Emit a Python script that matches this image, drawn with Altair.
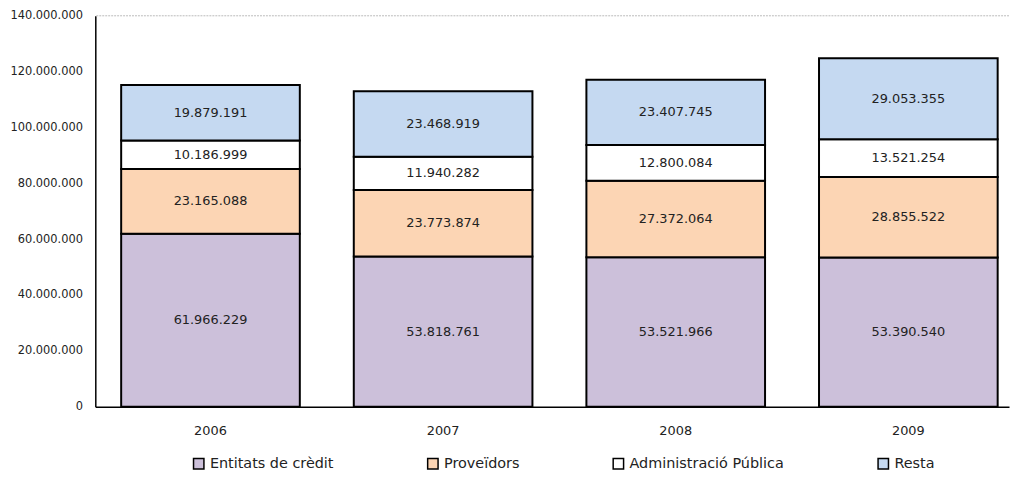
import altair as alt
import pandas as pd

years = ["2006", "2007", "2008", "2009"]
series = ["Entitats de crèdit", "Proveïdors", "Administració Pública", "Resta"]
entitats = [61966229, 53818761, 53521966, 53390540]
proveidors = [23165088, 23773874, 27372064, 28855522]
administracio = [10186999, 11940282, 12800084, 13521254]
resta = [19879191, 23468919, 23407745, 29053355]
colors = ["#CCC0DA", "#FCD5B4", "#FFFFFF", "#C5D9F1"]
y_ticks = [0, 20000000, 40000000, 60000000, 80000000, 100000000, 120000000, 140000000]

rows = []
for s_i, (name, vals) in enumerate(zip(series, [entitats, proveidors, administracio, resta])):
    for y, v in zip(years, vals):
        rows.append({"year": y, "series": name, "value": v, "ord": s_i})
df = pd.DataFrame(rows)

FONT = "DejaVu Sans"

x_enc = alt.X("year:N", sort=years, title=None,
              scale=alt.Scale(paddingInner=0.232, paddingOuter=0.08, align=0.695),
              axis=alt.Axis(labelAngle=0, ticks=False, labelPadding=18, labelFontSize=13,
                            labelFont=FONT, labelColor="#222222", domainColor="#000000",
                            domainWidth=1.5, grid=False))

base = alt.Chart(df).transform_stack(
    stack="value", groupby=["year"], as_=["y0", "y1"],
    sort=[alt.SortField("ord", order="ascending")]
).transform_calculate(mid="(datum.y0 + datum.y1) / 2")

bars = base.mark_bar(stroke="#000000", strokeWidth=2).encode(
    x=x_enc,
    y=alt.Y("y0:Q", title=None,
            scale=alt.Scale(domain=[0, 140000000], nice=False),
            axis=alt.Axis(values=y_ticks, format=",d", ticks=False, labelPadding=13,
                          labelFontSize=11.5, labelFont=FONT, labelColor="#222222",
                          domainColor="#000000", domainWidth=1.5, grid=False)),
    y2="y1:Q",
    color=alt.Color("series:N", sort=series,
                    scale=alt.Scale(domain=series, range=colors),
                    legend=alt.Legend(title=None, orient="none", legendX=97, legendY=444,
                                      direction="horizontal", columns=4, gridAlign="each",
                                      columnPadding=91, symbolType="square", symbolSize=110,
                                      symbolStrokeColor="#000000", symbolStrokeWidth=1.5,
                                      labelFont=FONT, labelFontSize=14.5, labelColor="#222222",
                                      labelOffset=4, labelLimit=400)),
)

labels = base.mark_text(font=FONT, fontSize=13, color="#222222").encode(
    x=alt.X("year:N", sort=years),
    y=alt.Y("mid:Q"),
    text=alt.Text("value:Q", format=",d"),
)

top_line = alt.Chart(pd.DataFrame({"v": [y_ticks[-1]]})).mark_rule(
    color="#BBBBBB", strokeDash=[2, 1], strokeWidth=1
).encode(y=alt.Y("v:Q"))

chart = alt.layer(top_line, bars, labels).properties(
    width=921, height=394,
    autosize=alt.AutoSizeParams(type="none"),
    padding={"left": 88, "top": 6, "right": 2, "bottom": 66},
).configure(
    locale=alt.Locale(number=alt.NumberLocale(decimal=",", thousands=".", grouping=[3],
                                              currency=["", " €"]))
).configure_view(stroke=None)

chart.save("out.html", embed_options={"renderer": "svg", "actions": False})
